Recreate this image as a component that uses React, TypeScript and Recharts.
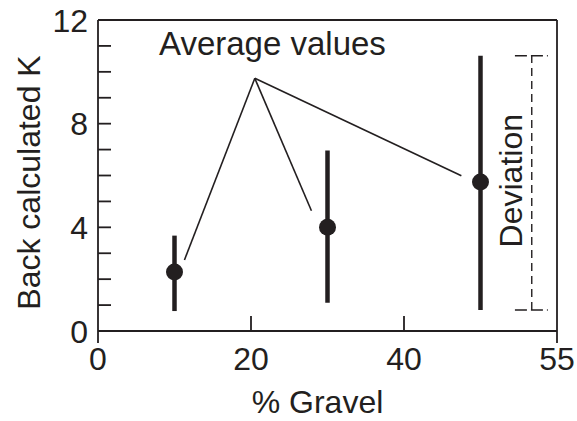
import { ScatterChart, Scatter, XAxis, YAxis, ErrorBar, ReferenceLine, ReferenceDot, Label } from 'recharts'

const gravel = [10, 30, 50]
const kMean = [2.28, 4.0, 5.75]
const kLow = [0.77, 1.09, 0.81]
const kHigh = [3.68, 6.96, 10.62]

const xTicks = [0, 20, 40, 60]
const xTickLabels = ['0', '20', '40', '55']
const yTicks = [0, 1, 2, 3, 4, 5, 6, 7, 8, 9, 10, 11, 12]
const yLabelled = [0, 4, 8, 12]

const calloutHub = { x: 20.5, y: 9.75 }
const calloutEnds = [
  { x: 11.3, y: 2.74 },
  { x: 27.9, y: 4.64 },
  { x: 47.5, y: 5.99 },
]
const deviationX = 56.7
const deviationCap = [54.5, 58.8]

const data = gravel.map((g, i) => ({
  x: g,
  y: kMean[i],
  err: [kMean[i] - kLow[i], kHigh[i] - kMean[i]],
}))

const INK = '#231f20'
const FONT = 'Liberation Sans, Arial, sans-serif'

const XTick = (props: any) => {
  const { x, y, payload } = props
  const i = xTicks.indexOf(payload.value)
  const edge = payload.value === 0 || payload.value === 60
  return (
    <g>
      {edge ? (
        <line x1={x} x2={x} y1={y} y2={y + 12} stroke={INK} strokeWidth={1.8} />
      ) : (
        <line x1={x} x2={x} y1={y - 15} y2={y} stroke={INK} strokeWidth={1.8} />
      )}
      <text x={x} y={y + 39} textAnchor='middle' fontSize={32} fontFamily={FONT} fill={INK}>
        {xTickLabels[i]}
      </text>
    </g>
  )
}

const YTick = (props: any) => {
  const { x, y, payload } = props
  const v = payload.value
  return (
    <g>
      {v !== 0 && v !== 12 && (
        <line x1={x} x2={x + 13} y1={y} y2={y} stroke={INK} strokeWidth={1.8} />
      )}
      {yLabelled.includes(v) && (
        <text x={x - 10} y={y} dy='0.36em' textAnchor='end' fontSize={32} fontFamily={FONT} fill={INK}>
          {v}
        </text>
      )}
    </g>
  )
}

const Dot = (props: any) => <circle cx={props.cx} cy={props.cy} r={8.5} fill={INK} />

const App = () => {
  return (
    <div style={{ position: 'fixed', left: 0, top: 0, width: 577, height: 421, background: '#fff' }}>
      <ScatterChart width={577} height={421} margin={{ top: 20, right: 20, left: 0, bottom: 0 }}>
        <XAxis
          type='number'
          dataKey='x'
          domain={[0, 60]}
          ticks={xTicks}
          interval={0}
          height={90}
          tickSize={0}
          tickMargin={0}
          tickLine={false}
          tick={<XTick />}
          axisLine={{ stroke: INK, strokeWidth: 1.8 }}
        >
          <Label
            content={(p: any) => (
              <text
                x={p.viewBox.x + p.viewBox.width / 2 - 10}
                y={p.viewBox.y + 82}
                textAnchor='middle'
                fontSize={32}
                fontFamily={FONT}
                fill={INK}
              >
                % Gravel
              </text>
            )}
          />
        </XAxis>
        <YAxis
          type='number'
          dataKey='y'
          domain={[0, 12]}
          ticks={yTicks}
          interval={0}
          width={98}
          tickSize={0}
          tickMargin={0}
          tickLine={false}
          tick={<YTick />}
          axisLine={{ stroke: INK, strokeWidth: 1.8 }}
        >
          <Label
            content={(p: any) => {
              const cx = 40
              const cy = p.viewBox.y + p.viewBox.height / 2 + 7
              return (
                <text
                  x={cx}
                  y={cy}
                  transform={`rotate(-90 ${cx} ${cy})`}
                  textAnchor='middle'
                  fontSize={32}
                  fontFamily={FONT}
                  fill={INK}
                >
                  Back calculated K
                </text>
              )
            }}
          />
        </YAxis>
        <ReferenceLine y={12} stroke={INK} strokeWidth={1.8} />
        <ReferenceLine x={60} stroke={INK} strokeWidth={1.8} />
        {calloutEnds.map((e, i) => (
          <ReferenceLine key={i} segment={[calloutHub, e]} stroke={INK} strokeWidth={1.6} />
        ))}
        <ReferenceLine
          segment={[{ x: deviationX, y: kLow[2] }, { x: deviationX, y: kHigh[2] }]}
          stroke={INK}
          strokeWidth={1.4}
          strokeDasharray='8 5'
        />
        <ReferenceLine
          segment={[{ x: deviationCap[0], y: kHigh[2] }, { x: deviationCap[1], y: kHigh[2] }]}
          stroke={INK}
          strokeWidth={1.4}
          strokeDasharray='12 4'
        />
        <ReferenceLine
          segment={[{ x: deviationCap[0], y: kLow[2] }, { x: deviationCap[1], y: kLow[2] }]}
          stroke={INK}
          strokeWidth={1.4}
          strokeDasharray='12 4'
        />
        <ReferenceDot
          x={22.8}
          y={10.65}
          r={0}
          stroke='none'
          fill='none'
          label={(p: any) => (
            <text
              x={p.viewBox.x + p.viewBox.width / 2}
              y={p.viewBox.y + p.viewBox.height / 2}
              textAnchor='middle'
              fontSize={33}
              fontFamily={FONT}
              fill={INK}
            >
              Average values
            </text>
          )}
        />
        <ReferenceDot
          x={55.4}
          y={5.8}
          r={0}
          stroke='none'
          fill='none'
          label={(p: any) => {
            const cx = p.viewBox.x + p.viewBox.width / 2
            const cy = p.viewBox.y + p.viewBox.height / 2
            return (
              <text
                x={cx}
                y={cy}
                transform={`rotate(-90 ${cx} ${cy})`}
                textAnchor='middle'
                fontSize={32}
                fontFamily={FONT}
                fill={INK}
              >
                Deviation
              </text>
            )
          }}
        />
        <Scatter data={data} fill={INK} shape={<Dot />} isAnimationActive={false}>
          <ErrorBar dataKey='err' direction='y' width={0} strokeWidth={4.5} stroke={INK} />
        </Scatter>
      </ScatterChart>
    </div>
  )
}

export default App
